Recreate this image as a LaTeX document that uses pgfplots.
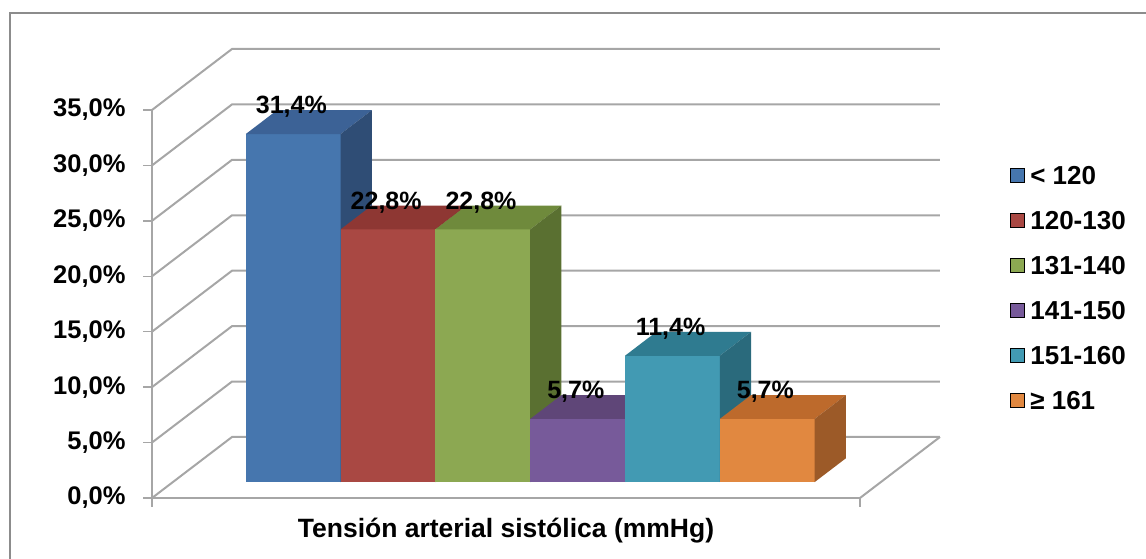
\documentclass[border=0pt]{standalone}
\usepackage{pgfplots}
\pgfplotsset{compat=1.18}
\usepackage{pgfplotstable}
\usepackage{fontspec}
\setmainfont{Liberation Sans}

% share of patients per systolic pressure band (%)
\pgfplotstableread{
idx val
1 31.4
2 22.8
3 22.8
4 5.7
5 11.4
6 5.7
}\bardata

% face colours: front, top, side
\definecolor{front0}{HTML}{4676AE}\definecolor{top0}{HTML}{3C6296}\definecolor{side0}{HTML}{2F4D75}
\definecolor{front1}{HTML}{A94843}\definecolor{top1}{HTML}{8E3733}\definecolor{side1}{HTML}{7A2F2C}
\definecolor{front2}{HTML}{8CA852}\definecolor{top2}{HTML}{6F8A3C}\definecolor{side2}{HTML}{5A7031}
\definecolor{front3}{HTML}{775A9A}\definecolor{top3}{HTML}{5F4678}\definecolor{side3}{HTML}{4F3A66}
\definecolor{front4}{HTML}{429AB3}\definecolor{top4}{HTML}{2F7B90}\definecolor{side4}{HTML}{2A6A7C}
\definecolor{front5}{HTML}{E18840}\definecolor{top5}{HTML}{BD6A2C}\definecolor{side5}{HTML}{9C5A28}
\definecolor{gridc}{HTML}{A6A6A6}
\definecolor{framec}{HTML}{8C8C8C}

% depth of the floor in data units (80pt right, 61pt up)
\def\dX{0.84388}
\def\dY{5.5024}
% front plane of the columns (26% of the depth) and column depth (39%)
\def\fX{0.21941}
\def\fY{1.43062}
\def\bX{0.32911}
\def\bY{2.14594}

\begin{document}
\begin{tikzpicture}
\useasboundingbox (0,0) rectangle (1146pt,559pt);
\draw[framec, line width=2pt] (9.5pt,-2pt) -- (9.5pt,546pt) -- (1148pt,546pt);
\begin{axis}[
  at={(152pt,61pt)}, anchor=south west,
  x=94.8pt, y=11.086pt,
  xmin=-0.27, xmax=7.198, ymin=0, ymax=35,
  clip=false,
  axis x line*=bottom, axis y line*=left,
  axis line style={gridc, line width=2pt},
  xtick={-0.27,7.198}, xticklabels={},
  ytick={0,5,...,35},
  tick align=outside,
  major tick length=9pt,
  tick style={gridc, line width=1.5pt},
  /pgf/number format/assume math mode=true,
  yticklabel={\pgfmathprintnumber[fixed,fixed zerofill,precision=1,use comma]{\tick}\%},
  yticklabel style={font=\fontsize{25.5}{30}\selectfont\bfseries, anchor=east, xshift=-14pt},
  xlabel={Tensión arterial sistólica (mmHg)},
  xlabel style={font=\fontsize{26.5}{30}\selectfont\bfseries, at={(axis description cs:0.5,0)}, anchor=base, yshift=-40pt},
  legend style={at={(axis description cs:1.21186,0.8845)}, anchor=north west, draw=none, fill=none,
    inner sep=0pt, outer sep=0pt,
    font=\fontsize{26}{30}\selectfont\bfseries,
    nodes={inner sep=0pt, outer sep=0pt, text height=20pt, text depth=6pt, minimum height=45pt},
    row sep=0pt, column sep=6pt},
  legend cell align=left,
  legend image code/.code={\fill[#1] (0pt,-4.7pt) rectangle (14pt,9.3pt);},
]
% walls: side wall and back wall gridlines
\pgfplotsinvokeforeach{0,5,...,35}{%
  \pgfmathsetmacro\zb{#1+\dY}%
  \pgfmathsetmacro\xs{-0.27+\dX}%
  \pgfmathsetmacro\xe{7.198+\dX}%
  \edef\doline{\noexpand\addplot[gridc, line width=2pt, forget plot]
    coordinates {(-0.27,#1) (\xs,\zb) (\xe,\zb)};}%
  \doline
}
% right edge of the floor
\pgfmathsetmacro\xe{7.198+\dX}
\edef\doline{\noexpand\addplot[gridc, line width=2pt, forget plot]
  coordinates {(7.198,0) (\xe,\dY)};}
\doline
% columns: front, top and side faces
\pgfplotsinvokeforeach{0,...,5}{%
  \pgfplotstablegetelem{#1}{val}\of\bardata
  \pgfmathsetmacro\vt{\pgfplotsretval+\fY}%
  \pgfmathsetmacro\vb{\vt+\bY}%
  \pgfmathsetmacro\yb{\fY+\bY}%
  \pgfmathsetmacro\xl{#1+0.5+\fX}%
  \pgfmathsetmacro\xr{\xl+1}%
  \pgfmathsetmacro\xlb{\xl+\bX}%
  \pgfmathsetmacro\xrb{\xr+\bX}%
  \edef\dofaces{%
    \noexpand\addplot[draw=none, fill=front#1, forget plot]
      coordinates {(\xl,\fY) (\xr,\fY) (\xr,\vt) (\xl,\vt)} -- cycle;
    \noexpand\addplot[draw=none, fill=top#1, forget plot]
      coordinates {(\xl,\vt) (\xr,\vt) (\xrb,\vb) (\xlb,\vb)} -- cycle;
    \noexpand\addplot[draw=none, fill=side#1, forget plot]
      coordinates {(\xr,\fY) (\xrb,\yb) (\xrb,\vb) (\xr,\vt)} -- cycle;
  }%
  \dofaces
}
% value labels
\addplot[draw=none, mark=none, forget plot, point meta=explicit,
  nodes near coords={\pgfmathprintnumber[fixed,fixed zerofill,precision=1,use comma]{\pgfplotspointmeta}\%},
  every node near coord/.append style={anchor=center, inner sep=0pt, font=\fontsize{25}{30}\selectfont\bfseries}]
  table[x expr=\thisrow{idx}+0.2, y expr=\thisrow{val}+3.866, meta=val] {\bardata};
% legend
\addlegendimage{fill=front0}\addlegendentry{< 120}
\addlegendimage{fill=front1}\addlegendentry{120-130}
\addlegendimage{fill=front2}\addlegendentry{131-140}
\addlegendimage{fill=front3}\addlegendentry{141-150}
\addlegendimage{fill=front4}\addlegendentry{151-160}
\addlegendimage{fill=front5}\addlegendentry{≥ 161}
\end{axis}
\end{tikzpicture}
\end{document}
